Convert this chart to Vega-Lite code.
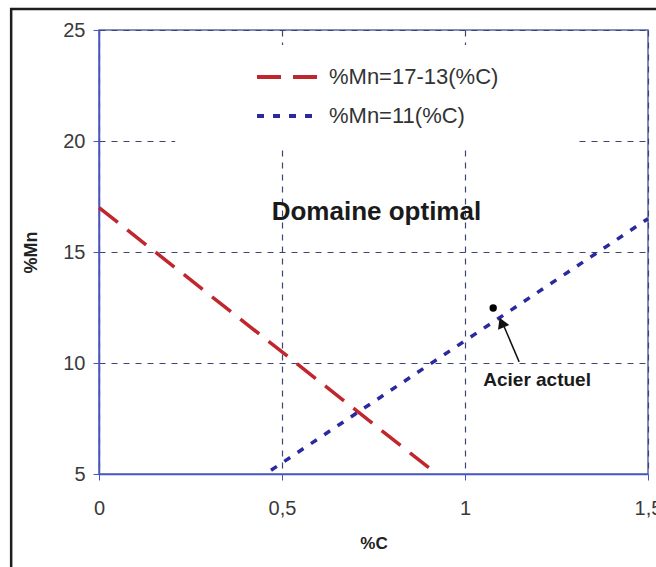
{
  "$schema": "https://vega.github.io/schema/vega-lite/v6.json",
  "autosize": "none",
  "width": 549,
  "height": 444,
  "padding": {"left": 99, "top": 30, "right": 8, "bottom": 93},
  "background": "white",
  "config": {
    "view": {"stroke": "#5a68a8", "strokeWidth": 1.5},
    "font": "Liberation Sans",
    "axis": {
      "labelFont": "Liberation Sans",
      "labelFontSize": 20,
      "labelColor": "#3a3a3a",
      "titleFont": "Liberation Sans",
      "titleFontSize": 18,
      "titleFontWeight": "bold",
      "titleColor": "#222222",
      "domainColor": "#4455cc",
      "domainWidth": 1.5,
      "tickColor": "#4455cc",
      "tickSize": 6,
      "gridColor": "#3d4670",
      "gridDash": [6, 6],
      "gridWidth": 1.2
    }
  },
  "datasets": {
    "lines": [
      {"series": "%Mn=17-13(%C)", "c": 0, "mn": 17},
      {"series": "%Mn=17-13(%C)", "c": 0.923, "mn": 5},
      {"series": "%Mn=11(%C)", "c": 0.47, "mn": 5.17},
      {"series": "%Mn=11(%C)", "c": 1.5, "mn": 16.5}
    ],
    "box": [{"x1": 0.208, "x2": 1.3, "y1": 19.68, "y2": 24.32}],
    "frame": [{"x1": -0.24, "x2": 1.7, "y1": 0, "y2": 25.95}],
    "point": [{"c": 1.077, "mn": 12.48}],
    "arrow": [{"c1": 1.148, "mn1": 10.05, "c2": 1.1, "mn2": 11.9}],
    "head": [{"c": 1.1, "mn": 11.82}],
    "labels": [
      {"c": 0.758, "mn": 16.8, "t": "Domaine optimal", "s": 26},
      {"c": 1.197, "mn": 9.23, "t": "Acier actuel", "s": 19}
    ]
  },
  "layer": [
    {
      "data": {"name": "box"},
      "mark": {"type": "rect", "fill": "white", "stroke": null},
      "encoding": {
        "x": {"field": "x1", "type": "quantitative", "scale": {"domain": [0, 1.5], "nice": false},
          "axis": {"title": "%C", "values": [0, 0.5, 1, 1.5], "labelExpr": "replace(toString(datum.value), '.', ',')", "titlePadding": 17, "labelPadding": 18, "labelFlush": false, "titleFontSize": 17}},
        "x2": {"field": "x2"},
        "y": {"field": "y1", "type": "quantitative", "scale": {"domain": [5, 25], "nice": false},
          "axis": {"title": "%Mn", "values": [5, 10, 15, 20, 25], "titlePadding": 22, "labelPadding": 8}},
        "y2": {"field": "y2"}
      }
    },
    {
      "data": {"name": "frame"},
      "mark": {"type": "rect", "fill": null, "stroke": "#1e1e1e", "strokeWidth": 2.5, "clip": false},
      "encoding": {
        "x": {"field": "x1", "type": "quantitative"},
        "x2": {"field": "x2"},
        "y": {"field": "y1", "type": "quantitative"},
        "y2": {"field": "y2"}
      }
    },
    {
      "data": {"name": "lines"},
      "mark": {"type": "line", "strokeWidth": 3.5},
      "encoding": {
        "x": {"field": "c", "type": "quantitative"},
        "y": {"field": "mn", "type": "quantitative"},
        "color": {"field": "series", "type": "nominal",
          "scale": {"domain": ["%Mn=17-13(%C)", "%Mn=11(%C)"], "range": ["#c0272d", "#2a2aa0"]},
          "legend": {"title": null, "orient": "none", "legendX": 156, "legendY": 35, "symbolType": "stroke", "symbolSize": 3844, "symbolStrokeWidth": 4, "labelFontSize": 22, "labelColor": "#333333", "labelFont": "Liberation Sans", "labelLimit": 400, "rowPadding": 15, "labelOffset": 8, "clipHeight": 24}},
        "strokeDash": {"field": "series", "type": "nominal",
          "scale": {"domain": ["%Mn=17-13(%C)", "%Mn=11(%C)"], "range": [[24, 12], [7, 9]]},
          "legend": null}
      }
    },
    {
      "data": {"name": "point"},
      "mark": {"type": "point", "filled": true, "color": "black", "size": 55, "opacity": 1},
      "encoding": {
        "x": {"field": "c", "type": "quantitative"},
        "y": {"field": "mn", "type": "quantitative"}
      }
    },
    {
      "data": {"name": "arrow"},
      "mark": {"type": "rule", "color": "#111111", "strokeWidth": 1.5},
      "encoding": {
        "x": {"field": "c1", "type": "quantitative"},
        "y": {"field": "mn1", "type": "quantitative"},
        "x2": {"field": "c2"},
        "y2": {"field": "mn2"}
      }
    },
    {
      "data": {"name": "head"},
      "mark": {"type": "point", "shape": "triangle-up", "filled": true, "color": "#111111", "size": 150, "angle": 337, "opacity": 1},
      "encoding": {
        "x": {"field": "c", "type": "quantitative"},
        "y": {"field": "mn", "type": "quantitative"}
      }
    },
    {
      "data": {"name": "labels"},
      "mark": {"type": "text", "fontWeight": "bold", "color": "#1a1a1a", "font": "Liberation Sans", "baseline": "middle", "align": "center"},
      "encoding": {
        "x": {"field": "c", "type": "quantitative"},
        "y": {"field": "mn", "type": "quantitative"},
        "text": {"field": "t"},
        "size": {"field": "s", "type": "quantitative", "scale": null}
      }
    }
  ]
}
